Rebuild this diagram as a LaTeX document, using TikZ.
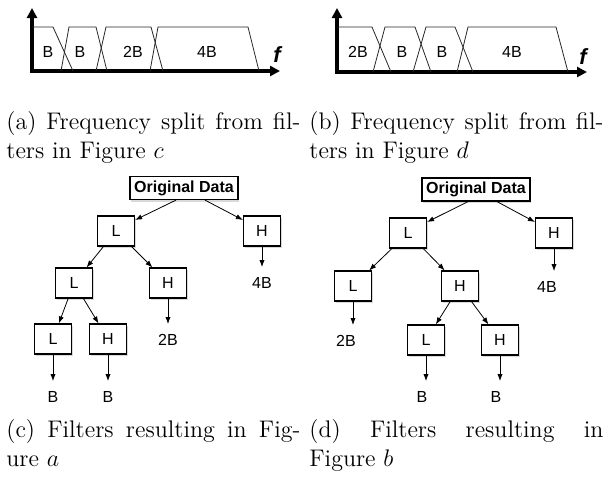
\documentclass[tikz,border=0pt]{standalone}
\usepackage{fontspec}
\newfontfamily\diagfont{Liberation Sans}
\usetikzlibrary{arrows.meta, positioning, shadows}

\begin{document}
\begin{tikzpicture}[
    x=0.5pt, y=-0.5pt, % pixel grid, y runs downwards
    >={Latex[length=3.5pt, width=2.6pt]},
    filt/.style={
      rectangle,
      draw,
      fill=white,
      line width=0.6pt,
      minimum width=18.5pt,
      minimum height=15pt,
      inner sep=0pt,
      font=\diagfont\fontsize{8}{9}\selectfont,
      drop shadow={shadow xshift=0.7pt, shadow yshift=-1pt, opacity=0.3}
    },
    root/.style={
      filt,
      minimum width=54pt, % wide box for the input
      minimum height=11.5pt,
      font=\diagfont\bfseries\fontsize{8}{9}\selectfont
    },
    band/.style={inner sep=0pt, font=\diagfont\fontsize{8}{9}\selectfont},
    outlabel/.style={band, inner ysep=5pt},
    axis/.style={line width=1.6pt, {Triangle[width=5pt,length=5pt]}-{Triangle[width=5pt,length=5pt]}},
    lobe/.style={line width=0.4pt, black!85},
    subcap/.style={anchor=north west, inner sep=0pt, text width=147pt, align=justify,
      font=\fontsize{12}{14.5}\selectfont}
  ]
  \useasboundingbox (0,0) rectangle (610,479);

  % --- spectrum for tree c
  \draw[axis] (32,8) |- (280,71);
  \draw[lobe] (32,27) -- (53,27) -- (73,71);
  \draw[lobe] (61,71) -- (69,27) -- (96,27) -- (107,71);
  \draw[lobe] (96,71) -- (106,27) -- (151,27) -- (163,71);
  \draw[lobe] (150,71) -- (158,27) -- (248,27) -- (259,71);
  \node[band] (sa1) at (48,52) {B};
  \node[band] (sa2) at (80,52) {B};
  \node[band] (sa3) at (133,52) {2B};
  \node[band] (sa4) at (207,52) {4B};
  \node[inner sep=0pt, font=\diagfont\bfseries\itshape\fontsize{11}{12}\selectfont] (fa) at (277,55) {f};

  % --- spectrum for tree d
  \draw[axis] (337,8) |- (587,72);
  \draw[lobe] (337,27) -- (372,27) -- (391,72);
  \draw[lobe] (373,72) -- (385,27) -- (415,27) -- (431,72);
  \draw[lobe] (413,72) -- (426,27) -- (455,27) -- (473,72);
  \draw[lobe] (457,72) -- (468,27) -- (556,27) -- (568,72);
  \node[band] (sb1) at (358,52) {2B};
  \node[band] (sb2) at (402,52) {B};
  \node[band] (sb3) at (442,52) {B};
  \node[band] (sb4) at (512,52) {4B};
  \node[inner sep=0pt, font=\diagfont\bfseries\itshape\fontsize{11}{12}\selectfont] (fb) at (583,57) {f};

  \node[subcap] (capa) at (6,111) {(a) Frequency split from fil-\linebreak ters in Figure $c$};
  \node[subcap] (capb) at (309,111) {(b) Frequency split from fil-\linebreak ters in Figure $d$};

  % --- tree c
  \node[root] (corig) at (184,188) {Original Data};
  \node[filt] (cl1) at (116,231) {L};
  \node[filt] (ch1) at (262,231) {H};
  \node[filt] (cl2) at (74,283) {L};
  \node[filt] (ch2) at (168,283) {H};
  \node[filt] (cl3) at (53,339) {L};
  \node[filt] (ch3) at (108,339) {H};
  \node[outlabel] (c4b) at (262,283) {4B};
  \node[outlabel] (c2b) at (168,340) {2B};
  \node[outlabel] (cb1) at (53,397) {B};
  \node[outlabel] (cb2) at (108,397) {B};
  \draw[->] ([xshift=-4pt]corig.south) -- (cl1.30);
  \draw[->] ([xshift=10.5pt]corig.south) -- (ch1.150);
  \draw[->] (cl1) -- (cl2);
  \draw[->] (cl1) -- (ch2);
  \draw[->] (cl2) -- (cl3);
  \draw[->] (cl2) -- (ch3);
  \draw[->] (ch1) -- (c4b);
  \draw[->] (ch2) -- (c2b);
  \draw[->] (cl3) -- (cb1);
  \draw[->] (ch3) -- (cb2);

  % --- tree d
  \node[root] (dorig) at (476,189.5) {Original Data};
  \node[filt] (dl1) at (408,233) {L};
  \node[filt] (dh1) at (554,233) {H};
  \node[filt] (dl2) at (353,286) {L};
  \node[filt] (dh2) at (460,286) {H};
  \node[filt] (dl3) at (426,340) {L};
  \node[filt] (dh3) at (500,340) {H};
  \node[outlabel] (d4b) at (547,287) {4B};
  \node[outlabel] (d2b) at (346,341) {2B};
  \node[outlabel] (db1) at (422,397) {B};
  \node[outlabel] (db2) at (496,397) {B};
  \draw[->] ([xshift=-4pt]dorig.south) -- (dl1.30);
  \draw[->] ([xshift=10.5pt]dorig.south) -- (dh1.150);
  \draw[->] (dl1) -- (dl2);
  \draw[->] (dl1) -- (dh2);
  \draw[->] (dh2) -- (dl3);
  \draw[->] (dh2) -- (dh3);
  \draw[->] (dh1) -- (dh1 |- d4b.north);
  \draw[->] (dl2) -- (dl2 |- d2b.north);
  \draw[->] (dl3) -- (dl3 |- db1.north);
  \draw[->] (dh3) -- (dh3 |- db2.north);

  \node[subcap] (capc) at (6,419) {(c) Filters resulting in Fig-\linebreak ure $a$};
  \node[subcap] (capd) at (309,419) {(d) Filters resulting in\linebreak Figure $b$};
\end{tikzpicture}
\end{document}
